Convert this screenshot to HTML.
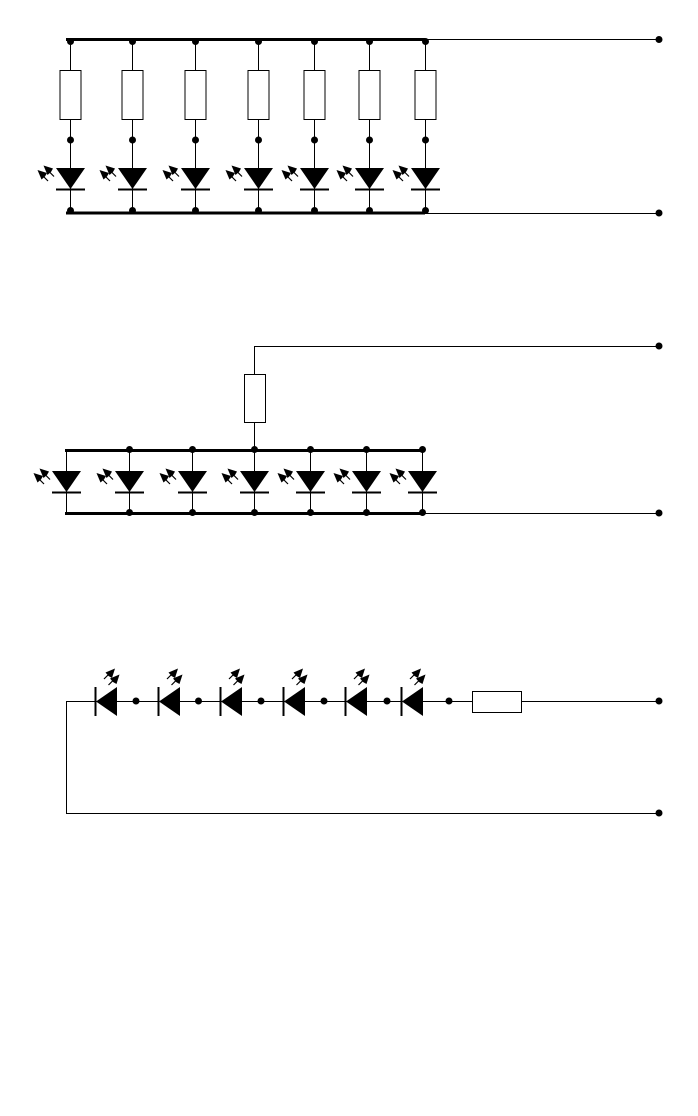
<!DOCTYPE html>
<html><head><meta charset="utf-8"><style>html,body{margin:0;padding:0;background:#fff}svg{display:block}</style></head>
<body>
<svg width="698" height="1116" viewBox="0 0 698 1116" xmlns="http://www.w3.org/2000/svg">
<defs>
<g id="led">
<path d="M-14.5 0H14.5L0 21Z" fill="#000"/>
<path d="M-14.5 21.5H14.5" stroke="#000" stroke-width="2" fill="none"/>
<path d="M-33 2L-23.5 5L-25.5 8.5L-29 11.5Z" fill="#000"/>
<path d="M-27 8.5L-22.5 13" stroke="#000" stroke-width="1.2"/>
<path d="M-27 -2.5L-17.5 0.5L-19.5 4L-23 7Z" fill="#000"/>
<path d="M-21 4L-16.5 8.5" stroke="#000" stroke-width="1.2"/>
</g>
<g id="v1">
<path d="M0 40.5V213" stroke="#000" stroke-width="1" fill="none"/>
<rect x="-10.5" y="70.5" width="21" height="49" fill="#fff" stroke="#000"/>
<circle cx="0" cy="41.5" r="3.5"/><circle cx="0" cy="140" r="3.5"/><circle cx="0" cy="210.5" r="3.5"/>
<use href="#led" y="168"/>
</g>
<g id="v2">
<path d="M0 450V513" stroke="#000" stroke-width="1" fill="none"/>
<circle cx="0" cy="449.5" r="3.5"/><circle cx="0" cy="512.5" r="3.5"/>
<use href="#led" y="471"/>
</g>
</defs>
<g fill="#000">
<path d="M424 39.5H659M424 213.5H659" stroke="#000" fill="none"/>
<path d="M66 39.5H425M66 213H425" stroke="#000" stroke-width="3" fill="none"/>
<use href="#v1" x="70.5"/><use href="#v1" x="132.5"/><use href="#v1" x="195.5"/><use href="#v1" x="258.5"/><use href="#v1" x="314.5"/><use href="#v1" x="369.5"/><use href="#v1" x="425.5"/>
<circle cx="659" cy="39.5" r="3.5"/><circle cx="659" cy="213" r="3.5"/>

<path d="M254.5 450V346.5H659M421 513.5H659" stroke="#000" fill="none"/>
<rect x="244.5" y="374.5" width="21" height="48" fill="#fff" stroke="#000"/>
<path d="M65 450.5H422M65 513.5H422" stroke="#000" stroke-width="3" fill="none"/>
<path d="M66.5 450V513" stroke="#000" fill="none"/>
<use href="#led" x="66.5" y="471"/>
<use href="#v2" x="129.5"/><use href="#v2" x="192.5"/><use href="#v2" x="254.5"/><use href="#v2" x="310.5"/><use href="#v2" x="366.5"/><use href="#v2" x="422.5"/>
<circle cx="659" cy="346" r="3.5"/><circle cx="659" cy="513" r="3.5"/>

<path d="M659 701.5H66.5V813.5H659" stroke="#000" fill="none"/>
<rect x="472.5" y="691.5" width="49" height="21" fill="#fff" stroke="#000"/>
<g transform="translate(117 701.5) rotate(90)"><use href="#led"/></g>
<g transform="translate(180 701.5) rotate(90)"><use href="#led"/></g>
<g transform="translate(242 701.5) rotate(90)"><use href="#led"/></g>
<g transform="translate(305 701.5) rotate(90)"><use href="#led"/></g>
<g transform="translate(367 701.5) rotate(90)"><use href="#led"/></g>
<g transform="translate(423 701.5) rotate(90)"><use href="#led"/></g>
<circle cx="136" cy="701" r="3.5"/><circle cx="198.5" cy="701" r="3.5"/><circle cx="261" cy="701" r="3.5"/><circle cx="324" cy="701" r="3.5"/><circle cx="387" cy="701" r="3.5"/><circle cx="449" cy="701" r="3.5"/>
<circle cx="659" cy="701" r="3.5"/><circle cx="659" cy="813" r="3.5"/>
</g>
</svg>
</body></html>
